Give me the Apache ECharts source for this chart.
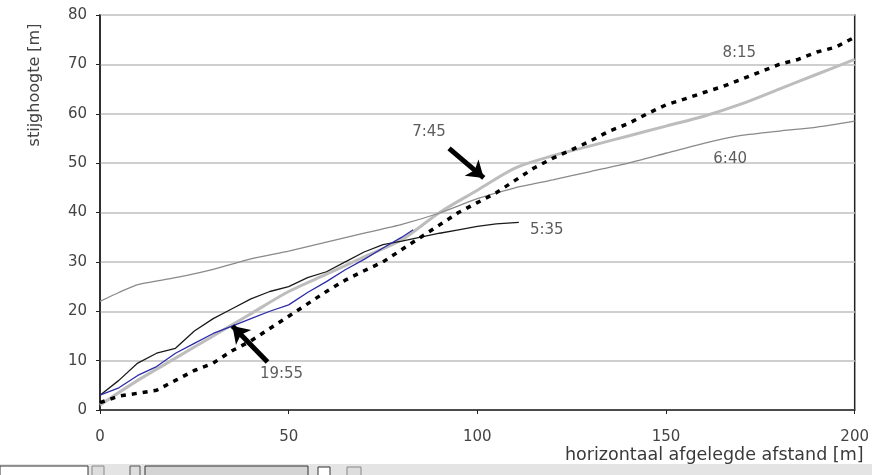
<!DOCTYPE html>
<html><head><meta charset="utf-8">
<script src="https://cdn.jsdelivr.net/npm/echarts@6/dist/echarts.min.js"></script>
<style>html,body{margin:0;padding:0;background:#fff}#c{width:872px;height:475px}</style>
</head><body><div id="c"></div>
<script>
var xTicks = [0, 50, 100, 150, 200];
var yTicks = [0, 10, 20, 30, 40, 50, 60, 70, 80];

var x640 = [0,5,10,20,30,40,50,60,70,80,90,100,110,120,130,140,150,160,170,180,190,200];
var y640 = [22,23.8,25.4,26.8,28.5,30.6,32.2,34,35.8,37.6,39.9,42.8,45,46.6,48.3,50,52,54,55.6,56.5,57.3,58.5];

var x745 = [0,10,20,30,40,50,60,70,80,90,100,110,120,130,140,150,160,170,180,190,200];
var y745 = [1,6,10.5,15,19.5,24,27.5,31,34.5,40,44.5,49,51.5,53.5,55.5,57.5,59.5,62,65,68,71];

var x815 = [0,5,10,15,20,25,30,35,40,45,50,55,60,65,70,75,80,85,90,95,100,105,110,115,120,125,130,135,140,145,150,155,160,165,170,175,180,185,190,195,200];
var y815 = [1.5,2.8,3.4,4,6,8,9.5,12,14,16.5,19,21.5,24,26.3,28.2,30,32.5,35,37.5,40,42,44,46.5,49,51,52.7,54.5,56.5,58,60,61.8,63,64.3,65.5,67,68.5,70,71,72.5,73.5,75.5];

var x535 = [0,5,10,15,20,25,30,35,40,45,50,55,60,65,70,75,80,85,90,95,100,105,111];
var y535 = [3,6,9.5,11.5,12.5,16,18.5,20.5,22.5,24,25,26.8,28,30,32,33.5,34.2,35,35.8,36.5,37.2,37.7,38];

var x1955 = [0,5,10,15,20,25,30,35,40,45,50,55,60,65,70,75,80,83];
var y1955 = [3,4.5,7,8.8,11.5,13.5,15.5,17,18.5,20,21.3,23.8,26,28.4,30.5,32.8,35,36.5];

var labelTexts = ['8:15', '6:40', '5:35', '7:45', '19:55'];
var labelX = [169.4, 167, 118.4, 87.2, 48.1];
var labelY = [72.3, 50.8, 36.5, 56.3, 7.3];

var arrowFrom = [[92.5, 53], [44.4, 9.7]];
var arrowTo = [[101.7, 47], [35.1, 17]];

var xName = 'horizontaal afgelegde afstand [m]';
var yName = 'stijghoogte [m]';

function pairs(xs, ys) { return xs.map(function (x, i) { return [x, ys[i]]; }); }

var chart = echarts.init(document.getElementById('c'), null, {renderer: 'canvas'});
var font = 'DejaVu Sans, Verdana, sans-serif';
chart.setOption({
  animation: false,
  backgroundColor: '#fff',
  grid: {left: 100, right: 15, top: 15, bottom: 65, show: true, borderColor: '#222', borderWidth: 1.5, backgroundColor: 'transparent'},
  xAxis: {
    type: 'value', min: 0, max: 200, interval: 50,
    axisLine: {show: true, lineStyle: {color: '#222', width: 1.5}},
    axisTick: {show: true, inside: false, length: 4, lineStyle: {color: '#222'}},
    axisLabel: {fontFamily: font, fontSize: 15, color: '#444', margin: 20},
    splitLine: {show: false}
  },
  yAxis: {
    type: 'value', min: 0, max: 80, interval: 10,
    axisLine: {show: true, lineStyle: {color: '#222', width: 1.5}},
    axisTick: {show: true, inside: false, length: 4, lineStyle: {color: '#222'}},
    axisLabel: {fontFamily: font, fontSize: 15, color: '#444', margin: 13},
    splitLine: {show: true, lineStyle: {color: '#cfcfcf', width: 2}}
  },
  graphic: [
    {type: 'text', x: 35, y: 85, rotation: Math.PI / 2, style: {text: yName, x: 0, y: 0, align: 'center', verticalAlign: 'middle', font: '16px ' + font, fill: '#444'}},
    {type: 'text', x: 565, y: 455, style: {text: xName, x: 0, y: 0, align: 'left', verticalAlign: 'middle', font: '17.5px ' + font, fill: '#3a3a3a'}},
    {type: 'rect', shape: {x: 0, y: 464, width: 872, height: 11}, style: {fill: '#e4e4e4'}},
    {type: 'rect', shape: {x: 0, y: 466, width: 88, height: 10}, style: {fill: '#fff', stroke: '#333', lineWidth: 1}},
    {type: 'rect', shape: {x: 92, y: 466, width: 12, height: 10}, style: {fill: '#ddd', stroke: '#888', lineWidth: 1}},
    {type: 'rect', shape: {x: 130, y: 466, width: 10, height: 10}, style: {fill: '#ddd', stroke: '#555', lineWidth: 1}},
    {type: 'rect', shape: {x: 145, y: 466, width: 163, height: 10}, style: {fill: '#d4d4d4', stroke: '#333', lineWidth: 1}},
    {type: 'rect', shape: {x: 318, y: 467, width: 12, height: 9}, style: {fill: '#fff', stroke: '#333', lineWidth: 1}},
    {type: 'rect', shape: {x: 347, y: 467, width: 14, height: 9}, style: {fill: '#ddd', stroke: '#888', lineWidth: 1}}
  ],
  series: [
    {name: '7:45', type: 'line', data: pairs(x745, y745), showSymbol: false, smooth: 0.3, lineStyle: {color: '#bdbdbd', width: 3}, z: 2},
    {name: '6:40', type: 'line', data: pairs(x640, y640), showSymbol: false, smooth: 0.2, lineStyle: {color: '#8a8a8a', width: 1.3}, z: 3},
    {name: '5:35', type: 'line', data: pairs(x535, y535), showSymbol: false, lineStyle: {color: '#1a1a1a', width: 1.3}, z: 4},
    {name: '19:55', type: 'line', data: pairs(x1955, y1955), showSymbol: false, lineStyle: {color: '#2b2ba8', width: 1.3}, z: 4},
    {name: '8:15', type: 'line', data: pairs(x815, y815), showSymbol: false, lineStyle: {color: '#000', width: 3.5, type: [5, 6]}, z: 5,
      markLine: {
        silent: true, symbol: ['none', 'arrow'], symbolSize: [16, 16],
        lineStyle: {color: '#000', width: 5, type: 'solid'}, label: {show: false},
        data: arrowFrom.map(function (f, i) { return [{coord: f}, {coord: arrowTo[i]}]; })
      }
    },
    {name: 'labels', type: 'scatter', symbolSize: 0, data: labelX.map(function (x, i) { return [x, labelY[i]]; }),
      label: {show: true, position: 'inside', formatter: function (p) { return labelTexts[p.dataIndex]; }, fontFamily: font, fontSize: 15, color: '#333'}, z: 6}
  ]
});
</script></body></html>
